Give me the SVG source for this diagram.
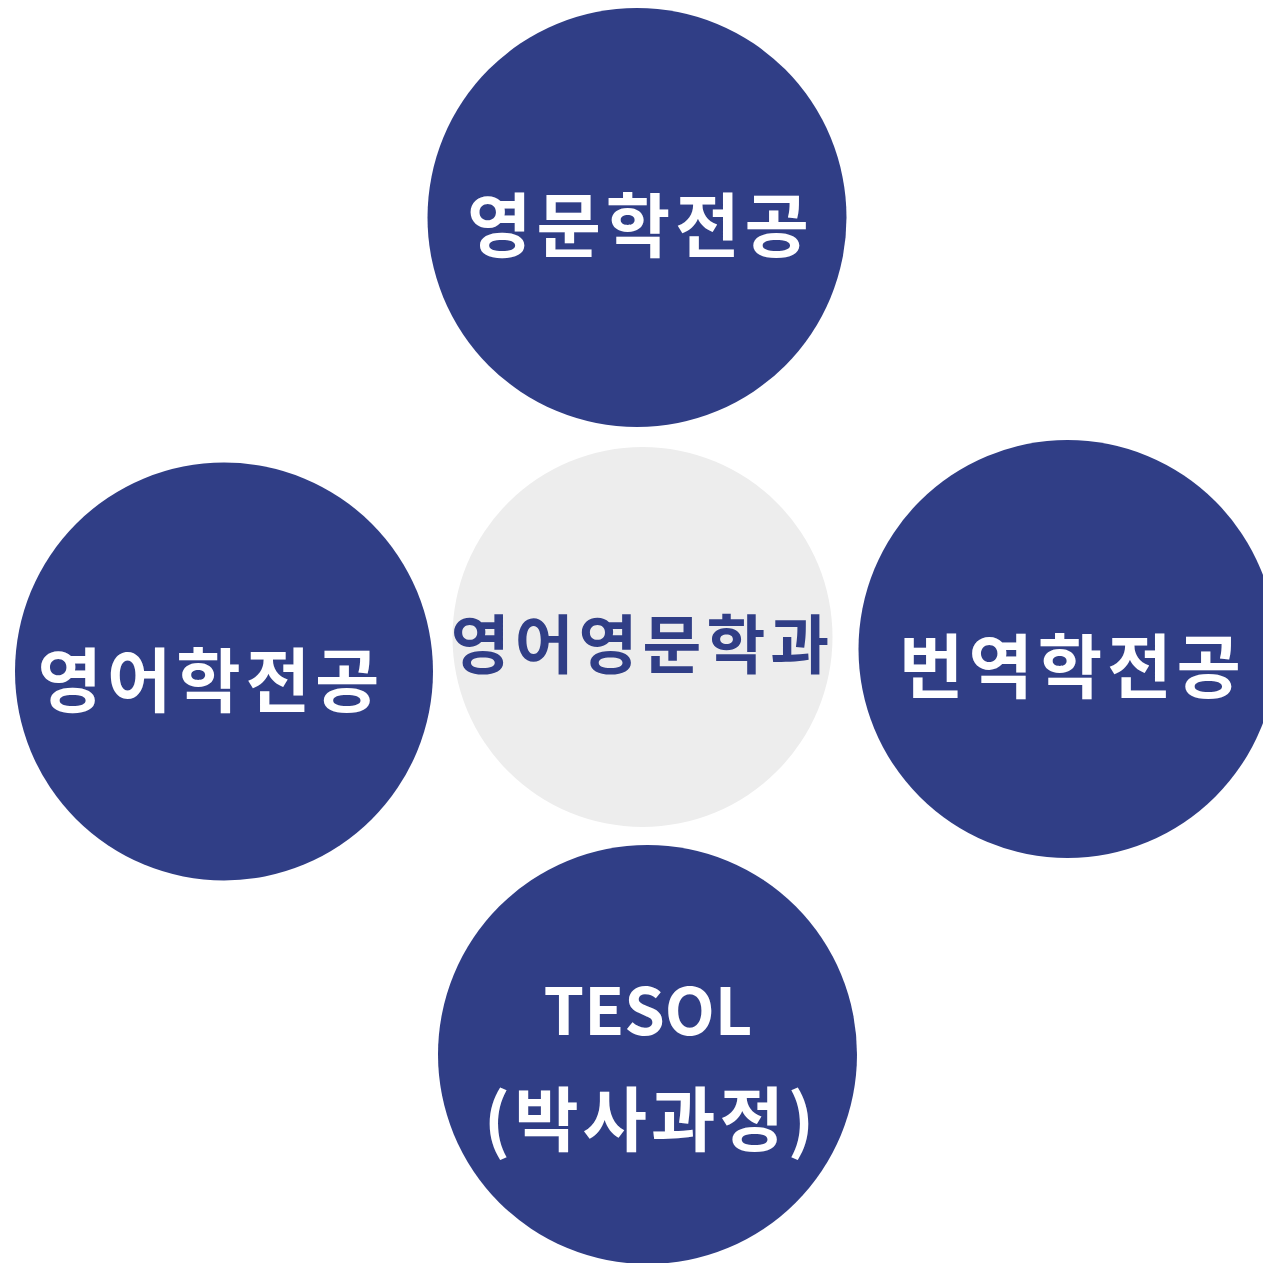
<svg xmlns="http://www.w3.org/2000/svg" width="1263" height="1263" viewBox="0 0 1263 1263">
<style>
.major{fill:#303E86}
.core{fill:#EDEDED}
.lbl{font-family:"Noto Sans CJK KR","Noto Sans",sans-serif;font-weight:700;fill:#FFFFFF;text-anchor:middle;letter-spacing:5px}
.clbl{font-family:"Noto Sans CJK KR","Noto Sans",sans-serif;font-weight:700;fill:#303E86;text-anchor:middle;letter-spacing:5px}
</style>
<rect width="1263" height="1263" fill="#FFFFFF"/>
<g id="connectors"></g>
<g id="center">
<circle class="core" cx="642.5" cy="637" r="190"/>
<text class="clbl" x="642.5" y="668" font-size="64">영어영문학과</text>
</g>
<g id="top">
<circle class="major" cx="637" cy="217.5" r="209.5"/>
<text class="lbl" x="640.5" y="252" font-size="70">영문학전공</text>
</g>
<g id="left">
<circle class="major" cx="224" cy="671.5" r="209"/>
<text class="lbl" x="211" y="707" font-size="70">영어학전공</text>
</g>
<g id="right">
<circle class="major" cx="1067.5" cy="649" r="209"/>
<text class="lbl" x="1072.5" y="693" font-size="70">번역학전공</text>
</g>
<g id="bottom">
<circle class="major" cx="647.5" cy="1054.5" r="209.5"/>
<text class="lbl" x="648" y="1035" font-size="65" style="letter-spacing:0">TESOL</text>
<text class="lbl" x="651" y="1146" font-size="70" style="letter-spacing:4px">(박사과정)</text>
</g>
</svg>
